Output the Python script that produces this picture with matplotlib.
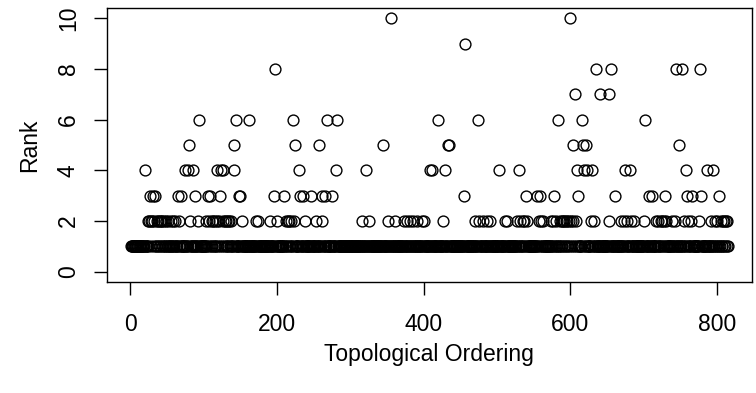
import numpy as np
import matplotlib
matplotlib.use("Agg")
import matplotlib.pyplot as plt

plt.rcParams['font.family'] = ['Liberation Sans', 'DejaVu Sans']

# number of nodes in the topological ordering; rank is 1 unless listed below
n_nodes = 815

rank2 = [24, 26, 29, 30, 33, 36, 38, 40, 42, 44, 46, 49, 52, 55, 58, 61, 67, 82, 92,
         104, 107, 111, 113, 116, 118, 121, 126, 129, 131, 133, 135, 137, 153, 172, 174,
         191, 200, 213, 215, 217, 219, 223, 238, 253, 262, 316, 325, 352, 361,
         373, 377, 381, 386, 391, 398, 400, 426, 470, 476, 481, 486, 491, 511, 514,
         527, 532, 535, 537, 541, 557, 560, 563, 573, 576, 580, 586, 588, 590, 592,
         594, 596, 598, 601, 604, 607, 628, 632, 653, 669, 673, 677, 683, 687, 700,
         717, 720, 723, 725, 727, 730, 738, 742, 755, 761, 764, 775,
         792, 797, 800, 805, 808, 810, 812, 813]
rank3 = [27, 31, 34, 65, 69, 88, 106, 109, 123, 148, 150, 196, 210, 232, 236, 247,
         261, 266, 275, 455, 539, 555, 558, 578, 611, 661, 707, 711, 729, 759, 766,
         778, 802]
rank4 = [20, 75, 79, 85, 119, 124, 127, 142, 230, 280, 321, 409, 411, 429, 503, 530,
         609, 618, 623, 629, 674, 681, 758, 786, 795]
rank5 = [80, 141, 225, 257, 345, 433, 435, 603, 617, 621, 748]
rank6 = [94, 144, 162, 222, 268, 282, 420, 474, 583, 616, 702]
rank7 = [606, 641, 652]
rank8 = [198, 635, 655, 744, 752, 777]
rank9 = [456]
rank10 = [355, 600]

order = np.arange(1, n_nodes + 1)
rank = np.ones(n_nodes)
for value, nodes in [(2, rank2), (3, rank3), (4, rank4), (5, rank5), (6, rank6),
                     (7, rank7), (8, rank8), (9, rank9), (10, rank10)]:
    rank[np.array(nodes) - 1] = value

fig = plt.figure(figsize=(7.56, 3.93), dpi=100)
ax = fig.add_axes([107 / 756, 1 - 282 / 393, 645 / 756, 274 / 393])
ax.plot(order, rank, 'o', mfc='none', mec='black', ms=7.8, mew=1.0)

ax.set_xlim(1 - 0.04 * 814, 815 + 0.04 * 814)
ax.set_ylim(-0.4, 10.4)
ax.set_xticks([0, 200, 400, 600, 800])
ax.set_yticks([0, 2, 4, 6, 8, 10])
ax.tick_params(direction='out', length=9.5, width=1, labelsize=16.5, color='black')
ax.tick_params(axis='x', pad=13)
ax.tick_params(axis='y', pad=10, labelrotation=90)
for lab in ax.get_yticklabels():
    lab.set_va('center')
for s in ax.spines.values():
    s.set_linewidth(1)

fig.text(30 / 756, 1 - 145 / 393, "Rank", rotation=90, fontsize=16.5, ha='center', va='center')
fig.text(429 / 756, 1 - 355 / 393, "Topological Ordering", fontsize=16.5, ha='center', va='center')

fig.savefig("out.png", dpi=100)
